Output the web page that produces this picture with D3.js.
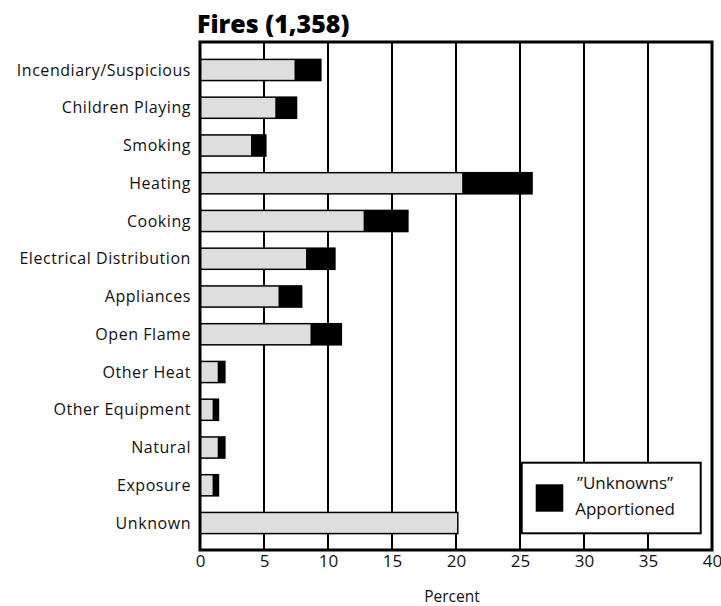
<!DOCTYPE html>
<html><head><meta charset="utf-8">
<script src="https://cdn.jsdelivr.net/npm/d3@7"></script>
<style>body{margin:0;background:#fff;} svg{display:block;font-family:"Open Sans","DejaVu Sans",sans-serif;}</style>
</head><body>
<svg id="c" width="721" height="606"></svg>
<script>
const categories = ["Incendiary/Suspicious","Children Playing","Smoking","Heating","Cooking","Electrical Distribution","Appliances","Open Flame","Other Heat","Other Equipment","Natural","Exposure","Unknown"];
const knownPct = [7.5,6.0,4.1,20.6,12.9,8.4,6.25,8.75,1.5,1.1,1.5,1.1,20.2];
const apportionedPct = [9.5,7.6,5.2,26.0,16.3,10.6,8.0,11.1,2.0,1.5,2.0,1.5,20.2];
const xTicks = [0,5,10,15,20,25,30,35,40];
const title = "Fires (1,358)";
const xLabel = "Percent";
const legendLines = ["\u201DUnknowns\u201D","Apportioned"];

const svg = d3.select("#c");
const x = d3.scaleLinear().domain([0,40]).range([200,712]);
const y = d3.scaleBand().domain(categories).range([51.1,541.9]).paddingInner(0.4).paddingOuter(0.2);
const plotTop = 42, plotBottom = 550;

// gridlines
svg.append("g").selectAll("line").data(xTicks.filter(d=>d>0&&d<40)).join("line")
  .attr("x1",d=>x(d)).attr("x2",d=>x(d)).attr("y1",plotTop).attr("y2",plotBottom)
  .attr("stroke","#000").attr("stroke-width",2);

// bars: total (black) then known (gray)
const g = svg.append("g");
categories.forEach((c,i)=>{
  g.append("rect").attr("x",x(0)).attr("y",y(c)).attr("width",x(apportionedPct[i])-x(0)).attr("height",y.bandwidth())
    .attr("fill","#000");
  g.append("rect").attr("x",x(0)).attr("y",y(c)+1.5).attr("width",x(knownPct[i])-x(0)-1.5).attr("height",y.bandwidth()-3)
    .attr("fill","#dedede");
});

// frame
svg.append("path").attr("d",`M${x(0)},${plotTop}H${x(40)}V${plotBottom}H${x(0)}Z`).attr("fill","none").attr("stroke","#000").attr("stroke-width",3);

// y labels
svg.append("g").selectAll("text").data(categories).join("text")
  .attr("x",191).attr("y",d=>y(d)+y.bandwidth()/2).attr("dy","0.35em").attr("text-anchor","end")
  .attr("font-size",16).attr("letter-spacing",0.55).attr("fill","#111").text(d=>d);

// x axis
const xa = svg.append("g").attr("transform",`translate(0,${plotBottom})`).call(d3.axisBottom(x).tickValues(xTicks).tickSize(0).tickPadding(5));
xa.select(".domain").remove();
xa.selectAll("text").attr("font-size",17).attr("fill","#111").attr("font-family","Open Sans, DejaVu Sans, sans-serif");

svg.append("text").attr("x",452).attr("y",602).attr("text-anchor","middle").attr("font-size",15.5).attr("fill","#111").text(xLabel);
svg.append("text").attr("x",197).attr("y",33).attr("font-size",25).attr("font-weight","800").attr("fill","#000").text(title);

// legend
const lg = svg.append("g");
lg.append("rect").attr("x",521.7).attr("y",462.7).attr("width",179).attr("height",70.6).attr("fill","#fff").attr("stroke","#000").attr("stroke-width",2);
lg.append("rect").attr("x",535.7).attr("y",484.3).attr("width",27.6).attr("height",27.4).attr("fill","#000");
lg.selectAll("text.l").data(legendLines).join("text").attr("class","l")
  .attr("x",625).attr("y",(d,i)=>489+i*26).attr("text-anchor","middle").attr("font-size",17).attr("fill","#111").text(d=>d);
</script>
</body></html>
